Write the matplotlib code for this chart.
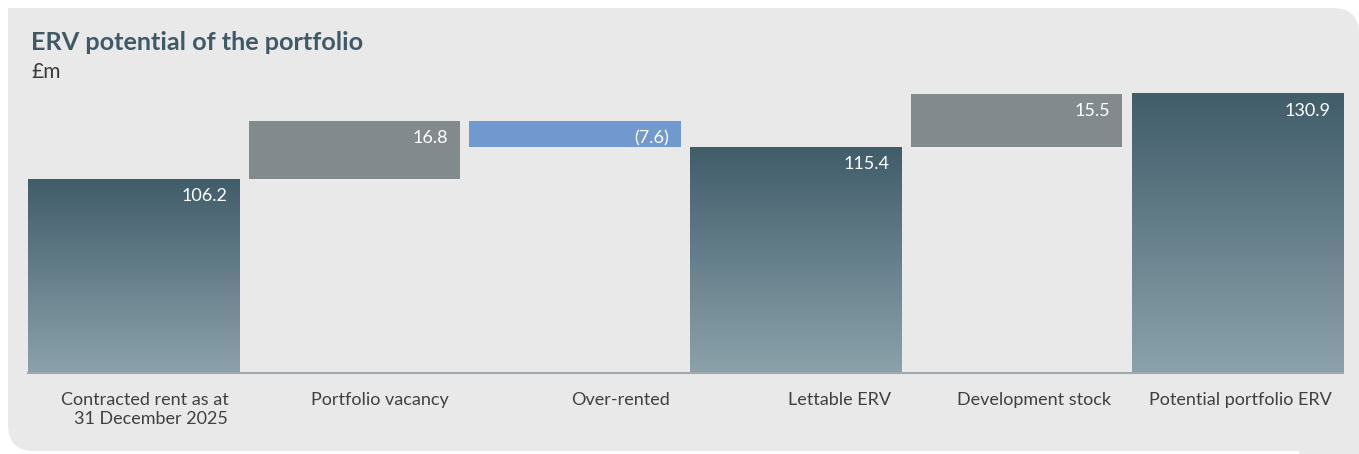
import numpy as np
import matplotlib
matplotlib.use("Agg")
import matplotlib.pyplot as plt
from matplotlib.colors import LinearSegmentedColormap
from matplotlib.patches import FancyBboxPatch, Rectangle
from matplotlib.transforms import Affine2D
from matplotlib import font_manager

# data (£m)
categories = ["Contracted rent as at\n31 December 2025", "Portfolio vacancy", "Over-rented",
              "Lettable ERV", "Development stock", "Potential portfolio ERV"]
values = [106.2, 16.8, -7.6, 115.4, 15.5, 130.9]
kinds = ["total", "step", "step", "total", "step", "total"]
labels = ["106.2", "16.8", "(7.6)", "115.4", "15.5", "130.9"]

y_floor = 50
names = {f.name for f in font_manager.fontManager.ttflist}
family = "Lato" if "Lato" in names else "DejaVu Sans"

W, H = 1359, 454
fig = plt.figure(figsize=(W / 100, H / 100), dpi=100)
fig.patch.set_facecolor("white")

# panel in pixel coordinates (y measured from bottom)
pix = Affine2D().scale(1 / W, 1 / H) + fig.transFigure
bg = "#e9e9e9"
panel = FancyBboxPatch((8, 3), W - 8, H - 11, boxstyle="round,pad=0,rounding_size=26",
                       transform=pix, facecolor=bg, edgecolor="none", zorder=-10)
fig.patches.append(panel)
# square top-left and bottom-right corners
fig.patches.append(Rectangle((8, H - 60), 60, 52, transform=pix, facecolor=bg,
                             edgecolor="none", zorder=-10))
fig.patches.append(Rectangle((W - 60, 0), 60, 60, transform=pix, facecolor=bg,
                             edgecolor="none", zorder=-10))

fig.text(31 / W, 1 - 50 / H, "ERV potential of the portfolio", fontsize=18.2,
         fontweight="bold", color="#3f5a66", family=family, va="baseline")
fig.text(31 / W, 1 - 78 / H, "£m", fontsize=15,
         color="#3a3a3a", family=family, va="baseline")

px_per_unit = 3.45
ytop = 135
ax_left, ax_right = 28, 1343
base_px = 373
ax_h = (ytop - y_floor) * px_per_unit
ax = fig.add_axes([ax_left / W, (H - base_px) / H, (ax_right - ax_left) / W, ax_h / H])
ax.patch.set_alpha(0)

width = 0.957
grad = LinearSegmentedColormap.from_list("teal", ["#8ba2ab", "#415d6a"])
gimg = np.linspace(0, 1, 256).reshape(-1, 1)

running = 0
for i, (v, k, lab) in enumerate(zip(values, kinds, labels)):
    x0, x1 = i - width / 2, i + width / 2
    if k == "total":
        bottom, top = y_floor, v
        running = v
        ax.imshow(gimg, cmap=grad, origin="lower", aspect="auto",
                  extent=[x0, x1, bottom, top], zorder=2)
    else:
        start = running
        running = running + v
        bottom, top = min(start, running), max(start, running)
        color = "#828a8d" if v > 0 else "#7198cf"
        ax.bar(i, top - bottom, bottom=bottom, width=width, color=color, zorder=2)
    ax.annotate(lab, xy=(x1, top), xytext=(-12, -9), textcoords="offset pixels",
                ha="right", va="top", color="white", fontsize=13,
                family=family, zorder=3)
    ax.annotate(categories[i], xy=(x1, y_floor), xytext=(-11, -19),
                textcoords="offset pixels", ha="right", va="top",
                color="#404040", fontsize=13,
                family=family, linespacing=1.25, annotation_clip=False)

ax.set_xlim(-width / 2, len(values) - 1 + width / 2)
ax.set_ylim(y_floor, ytop)
for s in ["top", "right", "left"]:
    ax.spines[s].set_visible(False)
ax.spines["bottom"].set_color("#9ea8ad")
ax.spines["bottom"].set_linewidth(1.5)
ax.spines["bottom"].set_zorder(4)
ax.set_xticks([])
ax.set_yticks([])

fig.savefig("out.png", dpi=100, facecolor="white")
